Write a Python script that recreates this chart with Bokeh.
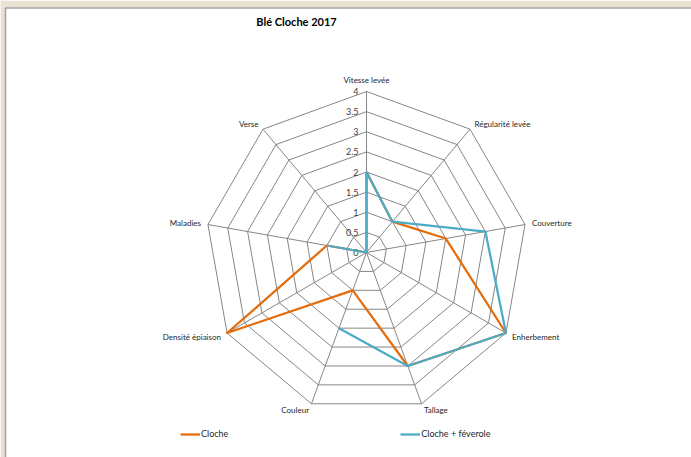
import numpy as np
from bokeh.plotting import figure
from bokeh.models import Range1d, Legend, LegendItem
from bokeh.core.properties import value
from bokeh.embed import file_html
from bokeh.resources import INLINE

# ---------------- data ----------------
title_text = "Blé Cloche 2017"
categories = ["Vitesse levée", "Régularité levée", "Couverture", "Enherbement",
              "Tallage", "Couleur", "Densité épiaison", "Maladies", "Verse"]
cloche = [2, 1, 2, 4, 3, 1, 4, 1, 0]
cloche_feverole = [2, 1, 3, 4, 3, 2, np.nan, 1, 0]
series_names = ["Cloche", "Cloche + féverole"]
tick_values = [0, 0.5, 1, 1.5, 2, 2.5, 3, 3.5, 4]
tick_labels = ["0", "0.5", "1", "1.5", "2", "2.5", "3", "3.5", "4"]

# ---------------- layout / style ----------------
W, H = 691, 457
CX, CY = 366.0, 252.0
RADIUS = 161.0
VMAX = 4.0
FONT = "Lato"
ORANGE = "#E46C0A"
BLUE = "#4BACC6"
GRID = "#868686"
BEIGE = "#E9E2D3"

p = figure(width=W, height=H, output_backend="svg", toolbar_location=None,
           x_range=Range1d(0, W), y_range=Range1d(H, 0),
           min_border=0, min_border_left=0, min_border_right=0,
           min_border_top=0, min_border_bottom=0)
p.axis.visible = False
p.xgrid.visible = False
p.ygrid.visible = False
p.outline_line_color = None
p.background_fill_color = "white"
p.border_fill_color = "white"

# window frame (beige strip top/left with grey edge)
p.quad(left=[0, 0], right=[W, 5], top=[0, 0], bottom=[7, H],
       fill_color=BEIGE, line_color=None)
p.segment(x0=[5, 5], y0=[7.5, 7.5], x1=[W, 5], y1=[7.5, H],
          line_color="#A0A0A0", line_width=1.5)

n = len(categories)
theta = np.array([2 * np.pi * i / n for i in range(n)])
sx, sy = np.sin(theta), -np.cos(theta)

def to_xy(vals):
    r = np.array(vals, dtype=float) / VMAX * RADIUS
    return CX + r * sx, CY + r * sy

# grid rings
ring_xs, ring_ys = [], []
for t in tick_values[1:]:
    x, y = to_xy([t] * n)
    ring_xs.append(list(x) + [x[0]])
    ring_ys.append(list(y) + [y[0]])
p.multi_line(ring_xs, ring_ys, line_color=GRID, line_width=1)

# spokes
vx, vy = to_xy([VMAX] * n)
p.segment(x0=[CX] * n, y0=[CY] * n, x1=vx, y1=vy, line_color=GRID, line_width=1)

# tick labels
tr = np.array(tick_values) / VMAX * RADIUS
p.text(x=[CX - 8] * len(tick_values), y=list(CY - tr), text=tick_labels,
       text_font=value(FONT), text_font_size="9px", text_color="#404040",
       text_align="right", text_baseline="middle")

# category labels
lx, ly, la, lb = [], [], [], []
for i in range(n):
    s, c = sx[i], sy[i]
    off = 7.0
    x = vx[i] + off * s
    y = vy[i] + off * c
    if abs(s) < 0.1:
        align = "center"
    elif s > 0:
        align = "left"
    else:
        align = "right"
    if c < -0.9:
        base = "bottom"
    else:
        base = "middle"
    lx.append(x); ly.append(y); la.append(align); lb.append(base)
for i in range(n):
    p.text(x=[lx[i]], y=[ly[i]], text=[categories[i]], text_font=value(FONT),
           text_font_size="8px", text_color="#262626",
           text_align=la[i], text_baseline=lb[i])

# series
r_items = []
for vals, col in [(cloche, ORANGE), (cloche_feverole, BLUE)]:
    x, y = to_xy(vals)
    xs = list(x) + [x[0]]
    ys = list(y) + [y[0]]
    r = p.line(xs, ys, line_color=col, line_width=2.25, line_join="round")
    r_items.append(r)

# title
p.text(x=[296], y=[21], text=[title_text], text_font=value(FONT),
       text_font_size="11px", text_font_style="bold", text_color="black",
       text_align="center", text_baseline="middle")

legend = Legend(items=[LegendItem(label=series_names[0], renderers=[r_items[0]]),
                       LegendItem(label=series_names[1], renderers=[r_items[1]])],
                orientation="horizontal", location=(180, 18), spacing=172,
                glyph_width=20, glyph_height=10, label_height=10,
                label_standoff=1, padding=0, margin=0,
                label_text_font=FONT, label_text_font_size="9px",
                label_text_color="#262626",
                background_fill_alpha=0, border_line_alpha=0)
p.add_layout(legend, "center")

open("out.html", "w").write(file_html(p, INLINE))
